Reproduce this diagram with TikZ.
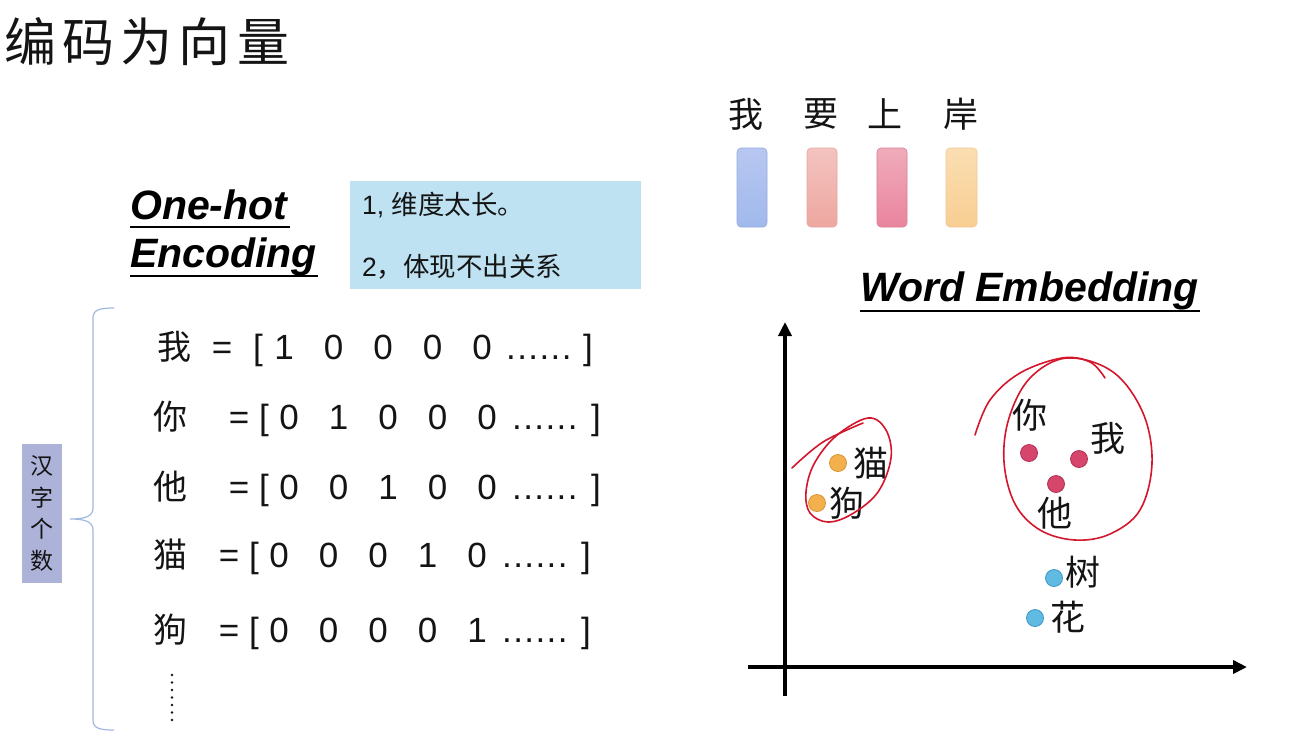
\documentclass[tikz,border=0pt]{standalone}
\usepackage{fontspec}
\setmainfont{Liberation Sans}
\newfontfamily\cjk{Noto Sans CJK SC}
\newfontfamily\cjkt[LetterSpace=12]{Noto Sans CJK SC}
\newfontfamily\dotfont[LetterSpace=4]{Liberation Sans}
\usetikzlibrary{arrows.meta}
\newcommand\setfs[1]{\fontsize{#1}{#1}\selectfont}
\definecolor{boxblue}{RGB}{190,226,242}
\definecolor{lav}{RGB}{172,178,216}
\definecolor{bracecol}{RGB}{160,185,225}
\definecolor{catorange}{RGB}{243,176,76}
\definecolor{catborder}{RGB}{214,148,52}
\definecolor{mered}{RGB}{214,70,108}
\definecolor{meborder}{RGB}{176,48,82}
\definecolor{treeblue}{RGB}{96,186,226}
\definecolor{treeborder}{RGB}{60,150,196}
\definecolor{inkred}{RGB}{212,22,44}
\definecolor{txt}{RGB}{20,20,20}
\tikzset{
  rowtxt/.style={inner sep=0, anchor=base, text=txt, font=\setfs{35}},
  rowcjk/.style={inner sep=0, anchor=base, text=txt, font=\cjk\setfs{34}},
  heading/.style={inner sep=0, anchor=base west, text=black, font=\bfseries\itshape\setfs{41}},
  uline/.style={line width=2.4pt, black},
  axisline/.style={line width=3.6pt, black, -{Triangle[length=14pt,width=13pt]}},
  pt/.style={circle, draw, line width=0.8pt, minimum size=17pt, inner sep=0},
  lbl/.style={inner sep=0, text=txt, font=\cjk\setfs{35}},
  bar/.style={rounded corners=4pt, line width=0.6pt},
  topch/.style={inner sep=0, text=txt, font=\cjk\setfs{35}},
  notetxt/.style={anchor=west, inner sep=0, text=txt, font=\setfs{26.5}},
  redink/.style={inkred, line width=1.6pt, line cap=round},
  bracestyle/.style={bracecol, line width=1.2pt}
}
\begin{document}
\begin{tikzpicture}[x=1pt,y=-1pt]
\useasboundingbox (0,0) rectangle (1289,748);
\fill[white] (0,0) rectangle (1289,748);

% title
\node[anchor=west, inner sep=0, text=txt] (title) at (4,42) {\cjkt\setfs{52}编码为向量};

% One-hot Encoding
\node[heading] (oh1) at (130,219) {One-hot};
\node[heading] (oh2) at (130,267) {Encoding};
\draw[uline] (oh1.base west) ++(0,8) -- ++(160,0);
\draw[uline] (oh2.base west) ++(0,9) -- ++(188,0);

% blue note box
\node[fill=boxblue, minimum width=291pt, minimum height=108pt, anchor=north west, inner sep=0] (note) at (350,181) {};
\node[notetxt] (n1) at (362,205) {1, \cjk 维度太长。};
\node[notetxt] (n2) at (362,267) {2\cjk ，体现不出关系};

% brace and count label
\draw[bracestyle] (114,308) .. controls (99,308) and (93,310) .. (93,318) -- (93,508)
   .. controls (93,516) and (86,519) .. (70,519) .. controls (86,519) and (93,522) .. (93,530)
   -- (93,720) .. controls (93,728) and (99,730) .. (114,730);
\node[fill=lav, minimum width=40pt, minimum height=139pt, inner sep=0, align=center,
      font=\cjk\fontsize{23}{31.5}\selectfont, text=txt] (cnt) at (42,513.5) {汉\\字\\个\\数};

% one-hot rows
\foreach \r/\ch/\y/\cx/\eq/\lb/\dz/\dt/\rb/\hot in {
 1/我/347/174/222/258/284/506/588/1,
 2/你/417/170/239/264/289/512/596/2,
 3/他/487/170/239/264/289/512/596/3,
 4/猫/555/170/229/254/279/502/586/4,
 5/狗/630/170/229/254/279/502/586/5}
{
 \pgfmathsetmacro\bl{\y+12.5}
 \node[rowcjk] (c\r) at (\cx,\bl) {\ch};
 \node[rowtxt] (e\r) at (\eq,\bl) {=};
 \node[rowtxt] (lb\r) at (\lb,\bl) {[};
 \foreach \k in {1,...,5} {
   \pgfmathsetmacro\xx{\dz+(\k-1)*49.5}
   \node[rowtxt] (d\r\k) at (\xx,\bl) {\ifnum\k=\hot\relax 1\else 0\fi};
 }
 \node[rowtxt, anchor=base west, font=\dotfont\setfs{35}] (dots\r) at (\dt,\bl) {......};
 \node[rowtxt] (rb\r) at (\rb,\bl) {]};
}
\foreach \i in {0,...,6} \fill[txt] (172,675+\i*7.5) circle (1.4pt);

% top word bars
\node[topch] (w1) at (746,114) {我};
\node[topch] (w2) at (821,114) {要};
\node[topch] (w3) at (885,114) {上};
\node[topch] (w4) at (961,114) {岸};
\draw[bar, draw={rgb,255:red,150;green,170;blue,225}, top color={rgb,255:red,184;green,199;blue,240}, bottom color={rgb,255:red,160;green,185;blue,236}] (737,148) rectangle (767,227);
\draw[bar, draw={rgb,255:red,230;green,165;blue,160}, top color={rgb,255:red,244;green,196;blue,192}, bottom color={rgb,255:red,238;green,166;blue,160}] (807,148) rectangle (837,227);
\draw[bar, draw={rgb,255:red,215;green,125;blue,150}, top color={rgb,255:red,240;green,172;blue,186}, bottom color={rgb,255:red,234;green,132;blue,158}] (877,148) rectangle (907,227);
\draw[bar, draw={rgb,255:red,240;green,200;blue,150}, top color={rgb,255:red,250;green,222;blue,178}, bottom color={rgb,255:red,248;green,206;blue,146}] (946,148) rectangle (977,227);

% Word Embedding
\node[heading] (we) at (860,301) {Word Embedding};
\draw[uline] (we.base west) ++(0,10) -- ++(340,0);

% axes
\coordinate (xs) at (748,667);
\coordinate (xe) at (1247,667);
\coordinate (ys) at (785,696);
\coordinate (ye) at (785,322);
\draw[axisline] (xs) -- (xe);
\draw[axisline] (ys) -- (ye);

% points
\node[pt, fill=catorange, draw=catborder] (pcat) at (838,463) {};
\node[lbl] (lcat) at (871,463) {猫};
\node[pt, fill=catorange, draw=catborder] (pdog) at (817,503) {};
\node[lbl] (ldog) at (847,503) {狗};
\node[pt, fill=mered, draw=meborder] (pyou) at (1029,453) {};
\node[lbl] (lyou) at (1030,415) {你};
\node[pt, fill=mered, draw=meborder] (pme) at (1079,459) {};
\node[lbl] (lme) at (1108,438) {我};
\node[pt, fill=mered, draw=meborder] (phe) at (1056,484) {};
\node[lbl] (lhe) at (1055,513) {他};
\node[pt, fill=treeblue, draw=treeborder] (ptree) at (1054,578) {};
\node[lbl] (ltree) at (1083,572) {树};
\node[pt, fill=treeblue, draw=treeborder] (pflower) at (1035,618) {};
\node[lbl] (lflower) at (1068,617) {花};

% hand-drawn red circles
\draw[redink] plot[smooth, tension=0.6] coordinates {(792,468) (823,442) (863,423)};
\draw[redink] plot[smooth cycle, tension=0.6] coordinates {(868,418) (886,430) (891,458) (878,492) (852,514) (828,522) (810,513) (806,492) (814,464) (836,436)};
\draw[redink] plot[smooth, tension=0.6] coordinates {(975,435) (990,400) (1020,373) (1062,358) (1090,362) (1105,378)};
\draw[redink] plot[smooth cycle, tension=0.6] coordinates {(1067,358) (1113,372) (1143,413) (1152,463) (1140,510) (1110,534) (1075,540) (1040,530) (1015,504) (1004,462) (1009,418) (1030,378)};
\end{tikzpicture}
\end{document}
